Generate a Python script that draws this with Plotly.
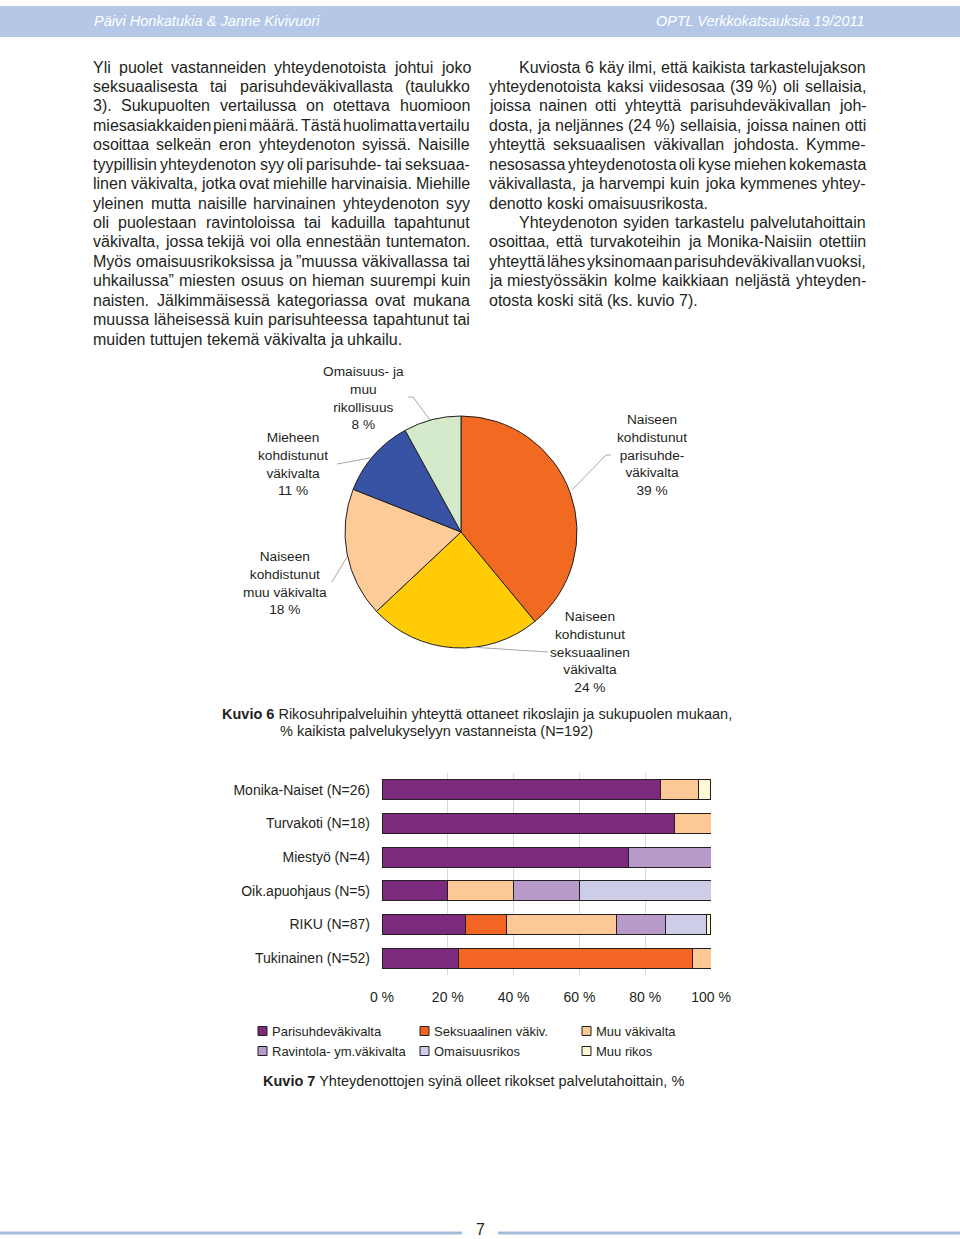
import plotly.graph_objects as go

W, H = 960, 1239
FONT = "Liberation Sans, Arial, sans-serif"
INK = "#231f20"

# ---------------- data ----------------
pie_labels = ["Naiseen kohdistunut parisuhdeväkivalta",
              "Naiseen kohdistunut seksuaalinen väkivalta",
              "Naiseen kohdistunut muu väkivalta",
              "Mieheen kohdistunut väkivalta",
              "Omaisuus- ja muu rikollisuus"]
pie_values = [39, 24, 18, 11, 8]
pie_colors = ["#f26a22", "#ffcc05", "#fccb98", "#3953a4", "#d5e9cb"]
pie_callouts = ["Naiseen<br>kohdistunut<br>parisuhde-<br>väkivalta<br>39 %",
                "Naiseen<br>kohdistunut<br>seksuaalinen<br>väkivalta<br>24 %",
                "Naiseen<br>kohdistunut<br>muu väkivalta<br>18 %",
                "Mieheen<br>kohdistunut<br>väkivalta<br>11 %",
                "Omaisuus- ja<br>muu<br>rikollisuus<br>8 %"]

bar_categories = ["Monika-Naiset (N=26)", "Turvakoti (N=18)", "Miestyö (N=4)",
                  "Oik.apuohjaus (N=5)", "RIKU (N=87)", "Tukinainen (N=52)"]
series_names = ["Parisuhdeväkivalta", "Seksuaalinen väkiv.", "Muu väkivalta",
                "Ravintola- ym.väkivalta", "Omaisuusrikos", "Muu rikos"]
parisuhde = [84.6, 88.9, 75.0, 20.0, 25.3, 23.1]
seksuaalinen = [None, None, None, None, 12.6, 71.2]
muu_vakivalta = [11.5, 11.1, None, 20.0, 33.3, 5.8]
ravintola = [None, None, 25.0, 20.0, 14.9, None]
omaisuus = [None, None, None, 40.0, 12.6, None]
muu_rikos = [3.8, None, None, None, 1.1, None]
series_colors = ["#7b2a7e", "#f26522", "#fbc896", "#b89bcb", "#cdcde8", "#fff8d5"]
x_tick_values = [0, 20, 40, 60, 80, 100]
x_tick_labels = ["0 %", "20 %", "40 %", "60 %", "80 %", "100 %"]

left_lines = [
    "Yli puolet vastanneiden yhteydenotoista johtui joko",
    "seksuaalisesta tai parisuhdeväkivallasta (taulukko",
    "3). Sukupuolten vertailussa on otettava huomioon",
    "miesasiakkaiden pieni määrä. Tästä huolimatta vertailu",
    "osoittaa selkeän eron yhteydenoton syissä. Naisille",
    "tyypillisin yhteydenoton syy oli parisuhde- tai seksuaa-",
    "linen väkivalta, jotka ovat miehille harvinaisia. Miehille",
    "yleinen mutta naisille harvinainen yhteydenoton syy",
    "oli puolestaan ravintoloissa tai kaduilla tapahtunut",
    "väkivalta, jossa tekijä voi olla ennestään tuntematon.",
    "Myös omaisuusrikoksissa ja ”muussa väkivallassa tai",
    "uhkailussa” miesten osuus on hieman suurempi kuin",
    "naisten. Jälkimmäisessä kategoriassa ovat mukana",
    "muussa läheisessä kuin parisuhteessa tapahtunut tai",
    "muiden tuttujen tekemä väkivalta ja uhkailu.",
]
left_last = [14]
left_indent = []

right_lines = [
    "Kuviosta 6 käy ilmi, että kaikista tarkastelujakson",
    "yhteydenotoista kaksi viidesosaa (39\u00a0%) oli sellaisia,",
    "joissa nainen otti yhteyttä parisuhdeväkivallan joh-",
    "dosta, ja neljännes (24\u00a0%) sellaisia, joissa nainen otti",
    "yhteyttä seksuaalisen väkivallan johdosta. Kymme-",
    "nesosassa yhteydenotosta oli kyse miehen kokemasta",
    "väkivallasta, ja harvempi kuin joka kymmenes yhtey-",
    "denotto koski omaisuusrikosta.",
    "Yhteydenoton syiden tarkastelu palvelutahoittain",
    "osoittaa, että turvakoteihin ja Monika-Naisiin otettiin",
    "yhteyttä lähes yksinomaan parisuhdeväkivallan vuoksi,",
    "ja miestyössäkin kolme kaikkiaan neljästä yhteyden-",
    "otosta koski sitä (ks. kuvio 7).",
]
right_last = [7, 12]
right_indent = [0, 8]

# ---------------- helpers ----------------
def px(x):
    return x / W

def py(y):
    return 1 - y / H

AW = {' ': 278, '\u00a0': 278, 'a': 556, 'b': 556, 'c': 500, 'd': 556, 'e': 556, 'f': 278,
      'g': 556, 'h': 556, 'i': 222, 'j': 222, 'k': 500, 'l': 222, 'm': 833, 'n': 556,
      'o': 556, 'p': 556, 'q': 556, 'r': 333, 's': 500, 't': 278, 'u': 556, 'v': 500,
      'w': 722, 'x': 500, 'y': 500, 'z': 500, 'ä': 556, 'ö': 556, 'å': 556,
      'A': 667, 'B': 667, 'C': 722, 'D': 722, 'E': 667, 'F': 611, 'G': 778, 'H': 722,
      'I': 278, 'J': 500, 'K': 667, 'L': 556, 'M': 833, 'N': 722, 'O': 778, 'P': 667,
      'Q': 778, 'R': 722, 'S': 667, 'T': 611, 'U': 722, 'V': 667, 'W': 944, 'X': 667,
      'Y': 667, 'Z': 611, 'Ä': 667, 'Ö': 778, '.': 278, ',': 278, ':': 278, ';': 278,
      '(': 333, ')': 333, '-': 333, '%': 889, '”': 333, '"': 355, '=': 584, '/': 278}

def tw(s, size):
    return sum(AW.get(c, 556) for c in s) * size / 1000.0

annotations = []
shapes = []

def body_column(lines, x0, x1, y0, dy, size, last, indent, ind=30):
    for i, line in enumerate(lines):
        yc = y0 + i * dy
        start = x0 + (ind if i in indent else 0)
        words = line.split(' ')
        widths = [tw(w, size) for w in words]
        if i in last or len(words) == 1:
            gap = tw(' ', size)
        else:
            gap = (x1 - start - sum(widths)) / (len(words) - 1)
        x = start
        for w, wd in zip(words, widths):
            annotations.append(dict(text=w, x=px(x), y=py(yc), xref="paper", yref="paper",
                                    xanchor="left", yanchor="middle", showarrow=False,
                                    borderpad=0, borderwidth=0,
                                    font=dict(family=FONT, size=size, color=INK)))
            x += wd + gap

body_column(left_lines, 93, 470, 67, 19.43, 16, left_last, left_indent)
body_column(right_lines, 489, 866, 67, 19.43, 16, right_last, right_indent)

# ---------------- figure ----------------
fig = go.Figure()

fig.add_trace(go.Pie(
    labels=pie_labels, values=pie_values, sort=False, direction="clockwise", rotation=0,
    textinfo="none", hoverinfo="label+percent", showlegend=False,
    marker=dict(colors=pie_colors, line=dict(color=INK, width=1)),
    domain=dict(x=[px(345), px(577)], y=[py(648), py(416)]),
))

series = [parisuhde, seksuaalinen, muu_vakivalta, ravintola, omaisuus, muu_rikos]
for name, vals, col in zip(series_names, series, series_colors):
    fig.add_trace(go.Bar(
        y=bar_categories, x=vals, name=name, orientation="h",
        marker=dict(color=col, line=dict(color=INK, width=1)),
        showlegend=False, hovertemplate="%{y}: %{x}<extra>" + name + "</extra>",
    ))

# pie callouts
callout_pos = [(652, 455.5), (590, 652.5), (285, 583), (293, 464), (363, 398)]
for txt, (cx, cy) in zip(pie_callouts, callout_pos):
    annotations.append(dict(text=txt, x=px(cx), y=py(cy), xref="paper", yref="paper",
                            xanchor="center", yanchor="middle", align="center",
                            showarrow=False, borderpad=0,
                            font=dict(family=FONT, size=13.7, color=INK)))

leaders = [
    [(611, 455), (606, 455), (572, 490)],
    [(548, 652), (470, 647)],
    [(332, 582), (347, 557)],
    [(337, 464), (370, 458)],
    [(408, 397), (413, 397), (430, 420)],
]
for pts in leaders:
    path = "M " + " L ".join(f"{px(x):.5f},{py(y):.5f}" for x, y in pts)
    shapes.append(dict(type="path", path=path, xref="paper", yref="paper",
                       line=dict(color="#a6a6a6", width=1)))

# header band and footer lines
shapes.append(dict(type="rect", x0=0, x1=1, y0=py(37), y1=py(6), xref="paper", yref="paper",
                   fillcolor="#b4c7e7", line=dict(width=0), layer="below"))
shapes.append(dict(type="line", x0=px(0), x1=px(462), y0=py(1233), y1=py(1233),
                   xref="paper", yref="paper", line=dict(color="#a7bcdc", width=3)))
shapes.append(dict(type="line", x0=px(498), x1=px(960), y0=py(1233), y1=py(1233),
                   xref="paper", yref="paper", line=dict(color="#a7bcdc", width=3)))

annotations.append(dict(text="<i>Päivi Honkatukia &amp; Janne Kivivuori</i>", x=px(93), y=py(21),
                        xref="paper", yref="paper", xanchor="left", yanchor="middle",
                        showarrow=False, borderpad=0,
                        font=dict(family=FONT, size=14.6, color="#ffffff")))
annotations.append(dict(text="<i>OPTL Verkkokatsauksia 19/2011</i>", x=px(866), y=py(21),
                        xref="paper", yref="paper", xanchor="right", yanchor="middle",
                        showarrow=False, borderpad=0,
                        font=dict(family=FONT, size=14.4, color="#ffffff")))
annotations.append(dict(text="7", x=px(480), y=py(1229), xref="paper", yref="paper",
                        xanchor="center", yanchor="middle", showarrow=False, borderpad=0,
                        font=dict(family=FONT, size=16, color=INK)))

# captions
annotations.append(dict(text="<b>Kuvio 6</b> Rikosuhripalveluihin yhteyttä ottaneet rikoslajin ja sukupuolen mukaan,",
                        x=px(221), y=py(714), xref="paper", yref="paper", xanchor="left",
                        yanchor="middle", showarrow=False, borderpad=0,
                        font=dict(family=FONT, size=14.5, color=INK)))
annotations.append(dict(text="% kaikista palvelukyselyyn vastanneista (N=192)",
                        x=px(279), y=py(731), xref="paper", yref="paper", xanchor="left",
                        yanchor="middle", showarrow=False, borderpad=0,
                        font=dict(family=FONT, size=14.5, color=INK)))
annotations.append(dict(text="<b>Kuvio 7</b> Yhteydenottojen syinä olleet rikokset palvelutahoittain, %",
                        x=px(262), y=py(1081), xref="paper", yref="paper", xanchor="left",
                        yanchor="middle", showarrow=False, borderpad=0,
                        font=dict(family=FONT, size=14.5, color=INK)))

# legend for bar chart
legend_pos = [(258, 1031), (420, 1031), (582, 1031), (258, 1051), (420, 1051), (582, 1051)]
for name, col, (lx, ly) in zip(series_names, series_colors, legend_pos):
    shapes.append(dict(type="rect", x0=px(lx), x1=px(lx + 9), y0=py(ly + 4.5), y1=py(ly - 4.5),
                       xref="paper", yref="paper", fillcolor=col, line=dict(color=INK, width=1)))
    annotations.append(dict(text=name, x=px(lx + 13), y=py(ly), xref="paper", yref="paper",
                            xanchor="left", yanchor="middle", showarrow=False, borderpad=0,
                            font=dict(family=FONT, size=13, color=INK)))

fig.update_layout(
    width=W, height=H, autosize=False,
    margin=dict(l=0, r=0, t=0, b=0, pad=0, autoexpand=False),
    paper_bgcolor="white", plot_bgcolor="white",
    barmode="stack", bargap=0.4,
    font=dict(family=FONT, color=INK),
    xaxis=dict(domain=[px(382), px(711)], range=[0, 100], tickvals=x_tick_values,
               ticktext=x_tick_labels, showgrid=True, gridcolor="#d9d9d9", gridwidth=1,
               zeroline=False, showline=False, ticks="", ticklabelstandoff=12, automargin=False,
               tickfont=dict(family=FONT, size=14, color=INK), fixedrange=True),
    yaxis=dict(domain=[py(975), py(773)], autorange="reversed", showgrid=False,
               zeroline=False, showline=False, ticks="", ticklabelstandoff=11, automargin=False,
               tickfont=dict(family=FONT, size=14, color=INK), fixedrange=True),
    annotations=annotations, shapes=shapes, showlegend=False,
)

page_fix = (
    "document.documentElement.style.margin='0';document.documentElement.style.overflow='hidden';"
    "document.body.style.margin='0';document.body.style.padding='0';document.body.style.overflow='hidden';"
)

fig.write_html("out.html", config={"responsive": False, "displayModeBar": False},
               post_script=page_fix)
